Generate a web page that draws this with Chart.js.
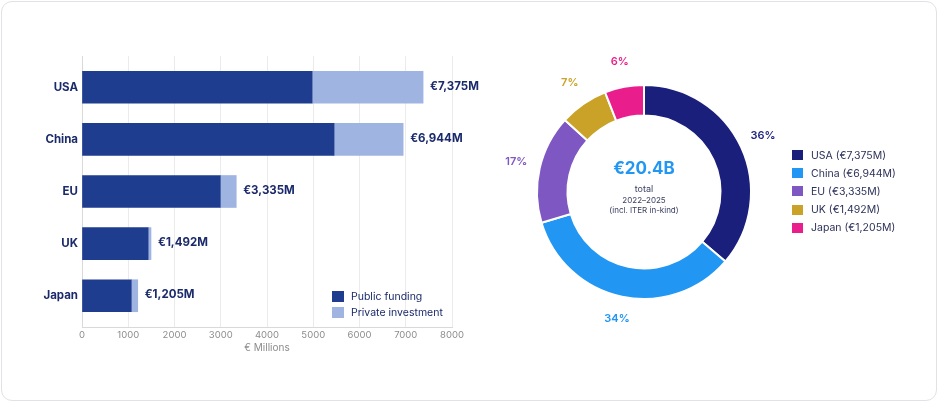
<!DOCTYPE html>
<html>
<head>
<meta charset="utf-8">
<script src="https://cdn.jsdelivr.net/npm/chart.js@4.4.1/dist/chart.umd.min.js"></script>
<style>
  html, body { margin: 0; padding: 0; background: #fff; font-family: Inter, "Noto Sans", sans-serif; }
  #card { position: absolute; left: 1px; top: 1px; width: 936px; height: 400px; box-sizing: border-box;
          border: 1px solid #e2e2e6; border-radius: 11px; background: #fff; }
  #barWrap { position: absolute; left: 0; top: 0; width: 480px; height: 362px; }
  #pieWrap { position: absolute; left: 494px; top: 42px; width: 300px; height: 300px; }
  .legend { position: absolute; font-size: 10.5px; }
  .legend .row { display: flex; align-items: center; white-space: nowrap; }
  .legend .sw { display: inline-block; flex: none; }
  #barLegend { left: 332px; top: 289px; color: #1b2a6b; }
  #barLegend .row { height: 15.5px; }
  #barLegend .sw { width: 12px; height: 11px; margin-right: 7px; }
  #pieLegend { left: 792px; top: 146px; color: #2d3259; font-size: 10.5px; }
  #pieLegend .row { height: 18.2px; }
  #pieLegend .sw { width: 11px; height: 10px; margin-right: 8px; }
</style>
</head>
<body>
<div id="card"></div>
<div id="barWrap"><canvas id="bar"></canvas></div>
<div id="pieWrap"><canvas id="pie"></canvas></div>
<div id="barLegend" class="legend"></div>
<div id="pieLegend" class="legend"></div>
<script>
// data (€ millions, 2022-2025)
const countries = ["USA", "China", "EU", "UK", "Japan"];
const publicFunding = [4975, 5450, 2990, 1430, 1065];
const privateInvestment = [2400, 1494, 345, 62, 140];
const totals = [7375, 6944, 3335, 1492, 1205];
const totalLabels = ["€7,375M", "€6,944M", "€3,335M", "€1,492M", "€1,205M"];
const shareLabels = ["36%", "34%", "17%", "7%", "6%"];
const centerLines = ["€20.4B", "total", "2022–2025", "(incl. ITER in-kind)"];

const barColors = ["#1f3d8f", "#a0b4e1"];
const barSeries = ["Public funding", "Private investment"];
const shareColors = ["#1b1f7c", "#2196f3", "#7e57c2", "#c9a227", "#e91e8c"];

const FONT = 'Inter, "Noto Sans", sans-serif';
const NAVY = "#1b2a6b";

// legends (html)
const barLegend = document.getElementById("barLegend");
barSeries.forEach((name, i) => {
  barLegend.innerHTML += `<div class="row"><span class="sw" style="background:${barColors[i]}"></span>${name}</div>`;
});
const pieLegend = document.getElementById("pieLegend");
countries.forEach((c, i) => {
  pieLegend.innerHTML += `<div class="row"><span class="sw" style="background:${shareColors[i]}"></span>${c} (${totalLabels[i]})</div>`;
});

// total labels at the end of each bar
const valueLabels = {
  id: "valueLabels",
  afterDatasetsDraw(chart) {
    const ctx = chart.ctx;
    const meta = chart.getDatasetMeta(1);
    ctx.save();
    ctx.font = `bold 11.5px ${FONT}`;
    ctx.fillStyle = NAVY;
    ctx.textBaseline = "middle";
    meta.data.forEach((bar, i) => {
      ctx.fillText(totalLabels[i], bar.x + 7, bar.y - 1);
    });
    ctx.restore();
  }
};

new Chart(document.getElementById("bar"), {
  type: "bar",
  data: {
    datasets: [
      { label: barSeries[0], data: publicFunding.map((v, i) => ({ x: v, y: i })),
        backgroundColor: barColors[0], barThickness: 32 },
      { label: barSeries[1], data: privateInvestment.map((v, i) => ({ x: v, y: i })),
        backgroundColor: barColors[1], barThickness: 32 }
    ]
  },
  options: {
    indexAxis: "y",
    responsive: true,
    maintainAspectRatio: false,
    animation: false,
    layout: { padding: { top: 56, right: 28, bottom: 0, left: 0 } },
    plugins: { legend: { display: false }, tooltip: { enabled: false } },
    scales: {
      x: {
        stacked: true, min: 0, max: 8000,
        afterFit: s => { s.height = 35; },
        ticks: { stepSize: 1000, callback: v => String(v), color: "#8c8c8c",
                 font: { family: FONT, size: 9.5 }, padding: 2 },
        grid: { color: "#ebebeb", drawTicks: false },
        border: { color: "#d9d9d9" },
        title: { display: true, text: "€ Millions", color: "#8c8c8c",
                 font: { family: FONT, size: 10 }, padding: { top: 2, bottom: 8 } }
      },
      y: {
        type: "linear", stacked: true, reverse: true, offset: false, min: -0.6, max: 4.6,
        afterFit: s => { s.width = 82; },
        afterBuildTicks: s => { s.ticks = countries.map((c, i) => ({ value: i })); },
        ticks: { autoSkip: false, callback: v => countries[v] ?? "", color: NAVY,
                 font: { family: FONT, size: 11.5, weight: "bold" }, padding: 4 },
        grid: { display: false, drawTicks: false },
        border: { color: "#d9d9d9" }
      }
    }
  },
  plugins: [valueLabels]
});

// centre text and outside percentage labels for the doughnut
const centerText = {
  id: "centerText",
  afterDraw(chart) {
    const ctx = chart.ctx;
    const arc = chart.getDatasetMeta(0).data[0];
    const cx = arc.x, cy = arc.y;
    ctx.save();
    ctx.textAlign = "center";
    ctx.textBaseline = "middle";
    ctx.fillStyle = "#2196f3";
    ctx.font = `bold 17px ${FONT}`;
    ctx.fillText(centerLines[0], cx, cy - 23.5);
    ctx.fillStyle = "#3b4062";
    ctx.font = `9px ${FONT}`;
    ctx.fillText(centerLines[1], cx, cy - 2.5);
    ctx.font = `8px ${FONT}`;
    ctx.fillText(centerLines[2], cx, cy + 8.5);
    ctx.fillText(centerLines[3], cx, cy + 19);
    ctx.restore();
  }
};

const shareText = {
  id: "shareText",
  afterDraw(chart) {
    const ctx = chart.ctx;
    ctx.save();
    ctx.textAlign = "center";
    ctx.textBaseline = "middle";
    ctx.font = `600 11px ${FONT}`;
    chart.getDatasetMeta(0).data.forEach((arc, i) => {
      const a = (arc.startAngle + arc.endAngle) / 2;
      const r = arc.outerRadius + 24;
      ctx.fillStyle = shareColors[i];
      ctx.fillText(shareLabels[i], arc.x + Math.cos(a) * r, arc.y + Math.sin(a) * r - 1.5);
    });
    ctx.restore();
  }
};

new Chart(document.getElementById("pie"), {
  type: "doughnut",
  data: {
    labels: countries,
    datasets: [{ data: totals, backgroundColor: shareColors, borderColor: "#fff", borderWidth: 2 }]
  },
  options: {
    responsive: true,
    maintainAspectRatio: false,
    animation: false,
    cutout: "71.5%",
    layout: { padding: 42 },
    plugins: { legend: { display: false }, tooltip: { enabled: false } }
  },
  plugins: [centerText, shareText]
});
</script>
</body>
</html>
